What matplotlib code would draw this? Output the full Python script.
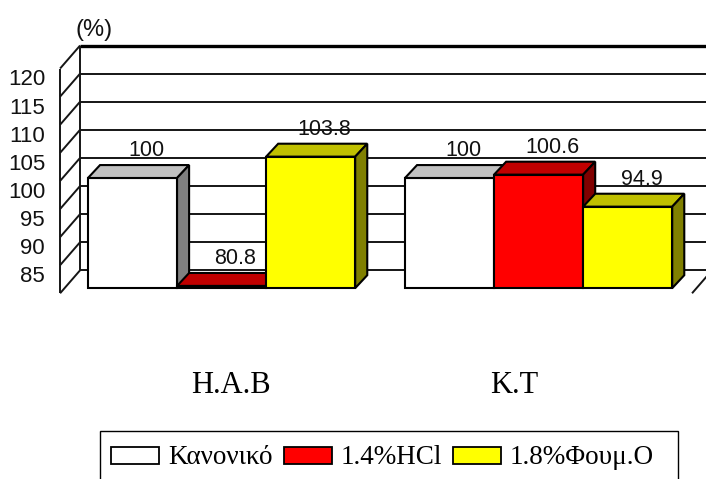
import matplotlib
matplotlib.use('Agg')
import matplotlib.pyplot as plt
import matplotlib.transforms as mtransforms
from matplotlib.patches import Rectangle

plt.rcParams['font.family'] = ['Liberation Sans', 'DejaVu Sans']

groups = ['H.A.B', 'K.T']
series = ['Κανονικό', '1.4%HCl', '1.8%Φουμ.Ο']
normal = [100, 100]
hcl = [80.8, 100.6]
formic = [103.8, 94.9]
wall_ticks = [85, 90, 95, 100, 105, 110, 115, 120]

face_colors = ['#ffffff', '#ff0000', '#ffff00']
top_colors = ['#c0c0c0', '#c00000', '#c0c000']
side_colors = ['#808080', '#800000', '#808000']

W, H = 706, 479
fig = plt.figure(figsize=(W / 100, H / 100), dpi=100)

# two overlaid axes: the back wall scale and the bar scale (bars sit a bit higher)
ax_wall = fig.add_axes([0, 0, 1, 1])
ax = fig.add_axes([0, 0, 1, 1])
for a in (ax_wall, ax):
    a.set_xlim(-0.699, 1.528)
    a.axis('off')
ax_wall.set_ylim(47.86, 133.10)
ax.set_ylim(46.44, 131.67)

# --- walls and grid ---
WALL_X = -0.4464          # back-left corner
WALL_RIGHT = 1.547
WALL_DX, WALL_DY = 0.063, 4.09
wall_top = 125
floor = wall_ticks[0]
kw = dict(color='#151515', lw=1.4, solid_capstyle='butt')

for t in wall_ticks:
    ax_wall.plot([WALL_X, WALL_RIGHT], [t, t], **kw)
    ax_wall.plot([WALL_X - WALL_DX, WALL_X], [t - WALL_DY, t], **kw)
    ax_wall.text(-0.557, t - 2.1, str(t), ha='right', va='baseline',
                 fontsize=16, color='#111111')
ax_wall.plot([WALL_X, WALL_RIGHT], [wall_top, wall_top], color='black', lw=2.4,
             solid_capstyle='butt')
ax_wall.plot([WALL_X - WALL_DX, WALL_X], [wall_top - WALL_DY, wall_top], **kw)
ax_wall.plot([WALL_X, WALL_X], [floor, wall_top], **kw)
ax_wall.plot([WALL_X - WALL_DX] * 2, [floor - WALL_DY, wall_top - WALL_DY], **kw)
ax_wall.plot([WALL_RIGHT - WALL_DX, WALL_RIGHT], [floor - WALL_DY, floor], **kw)
ax_wall.text(-0.402, 127.8, '(%)', ha='center', va='center', fontsize=17,
             color='#111111')

# --- 3D-looking bars ---
BAR_W = 0.281
BASE = 80.4
DX, DY = 0.038, 2.3

for j, vals in enumerate([normal, hcl, formic]):
    lefts = [i + (j - 1.5) * BAR_W for i in range(len(groups))]
    ax.bar(lefts, [v - BASE for v in vals], bottom=BASE, width=BAR_W,
           align='edge', color=face_colors[j], edgecolor='black', lw=1.5,
           zorder=3 + j)
    for x0, v in zip(lefts, vals):
        x1 = x0 + BAR_W
        ax.fill([x0, x0 + DX, x1 + DX, x1], [v, v + DY, v + DY, v],
                facecolor=top_colors[j], edgecolor='black', lw=1.5, zorder=3 + j)
        ax.fill([x1, x1 + DX, x1 + DX, x1], [BASE, BASE + DY, v + DY, v],
                facecolor=side_colors[j], edgecolor='black', lw=1.5, zorder=3 + j)
        ax.text(x0 + BAR_W / 2 + 0.044, v + DY + 1.6, f'{v:g}', ha='center',
                va='baseline', fontsize=15.5, color='#111111', zorder=10)

# --- category labels ---
blend = mtransforms.blended_transform_factory(ax.transData, fig.transFigure)
label_shift = [0.03, -0.077]
for i, g in enumerate(groups):
    ax.text(i + label_shift[i], 1 - 393 / H, g, transform=blend, ha='center',
            va='baseline', fontsize=22, family='Liberation Serif')

# --- legend box ---
def fx(px):
    return px / W

def fy(py):
    return 1 - py / H

fig.add_artist(Rectangle((fx(100), fy(495)), fx(678) - fx(100), fy(431) - fy(495),
                         transform=fig.transFigure, fill=False,
                         edgecolor='black', lw=1.0))
renderer = fig.canvas.get_renderer()
x = 111
for name, fc in zip(series, face_colors):
    fig.add_artist(Rectangle((fx(x), fy(464)), fx(48), 17 / H,
                             transform=fig.transFigure, facecolor=fc,
                             edgecolor='black', lw=1.3))
    t = fig.text(fx(x + 57), fy(464), name, ha='left', va='baseline',
                 fontsize=19.5, family='Liberation Serif')
    x = t.get_window_extent(renderer).x1 + 11

fig.savefig('out.png', dpi=100)
